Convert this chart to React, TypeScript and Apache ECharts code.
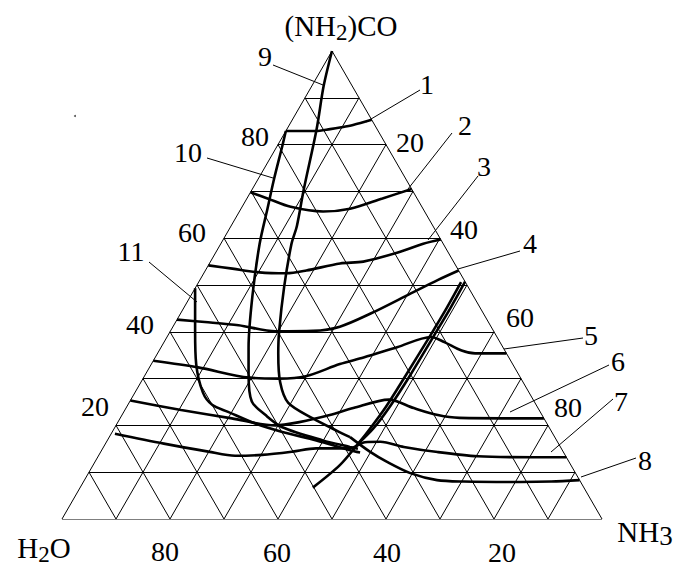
import React, { useEffect, useRef } from "react";
import * as echarts from "echarts";

// Ternary points are [NH3 %, (NH2)CO %]; H2O % = 100 - NH3 - (NH2)CO
const gridSteps = [10, 20, 30, 40, 50, 60, 70, 80, 90];
const leftTicks = ["80", "60", "40", "20"]; // (NH2)CO %
const rightTicks = ["20", "40", "60", "80"]; // NH3 %
const bottomTicks = ["80", "60", "40", "20"]; // H2O %

const curve1 = [[0, 82.9], [5.5, 82.9], [8, 83.3], [9.9, 83.7], [11.8, 84.2], [14.7, 85.3]];
const curve2 = [[0, 69.8], [3.8, 68.5], [9.0, 66.7], [15.5, 65.7], [20.2, 66.3], [25.1, 68.5], [29.5, 70.5]];
const curve3 = [[0, 54.2], [4.8, 53.5], [10.2, 52.7], [15.3, 52.5], [18.7, 53.1], [24.2, 54.6], [28.3, 55.0], [33.6, 56.9], [37.5, 58.8], [40.3, 59.7]];
const curve4 = [[0, 42.6], [5.4, 42.1], [12.0, 41.4], [19.5, 40.1], [26.4, 40.2], [30.9, 41.1], [35.2, 43.9], [40.5, 48.2], [44.1, 51.1], [46.9, 53.1]];
const curve5 = [[0, 33.8], [9.0, 32.4], [19.5, 30.2], [25.2, 30.0], [29.9, 30.5], [34.9, 33.1], [38.6, 34.5], [43.7, 36.7], [48.9, 38.9], [51.9, 37.8], [56.0, 36.0], [58.8, 35.4], [64.6, 35.4]];
const curve6 = [[0, 25.3], [10.4, 23.3], [20.7, 21.5], [29.5, 20.0], [33.6, 20.7], [38.5, 22.2], [42.1, 23.7], [47.8, 25.5], [53.3, 23.7], [58.5, 22.2], [62.8, 21.6], [78.5, 21.5]];
const curve7 = [[0.7, 18.2], [10.8, 16.1], [19.9, 14.4], [25.3, 13.5], [30.2, 13.7], [35.5, 14.4], [39.5, 15.1], [45.8, 15.1], [47.9, 16.4], [50.7, 16.5], [55.6, 15.4], [62.4, 14.3], [70.3, 13.4], [81.0, 13.2], [86.8, 13.2]];
const curve8 = [[44.6, 17.5], [49.8, 14.4], [54.1, 12.2], [59.6, 9.8], [65.3, 8.3], [70.4, 8.0], [81.0, 7.9], [86.6, 8.0], [91.7, 8.3]];
const curve9 = [[0, 100], [2.2, 92.5], [5.5, 83.3], [9.6, 70.3], [12.2, 62.6], [13.1, 58.8], [16.3, 49.7], [20.2, 40], [22.4, 35.3], [25.8, 29.2], [29.5, 24.8], [35.7, 21.5], [41.4, 18.9], [44.6, 17.5]];
const curve10 = [[0, 82.9], [0.95, 79.7], [2.9, 72.8], [4.9, 66.3], [7.2, 58.8], [11.5, 47.5], [16.2, 36.7], [19.1, 30.9], [22.6, 25.1], [26.6, 22.2], [31.0, 19.6], [39.9, 16.8], [45.6, 15.4], [47.3, 15.0]];
const curve11 = [[0, 49.3], [4.5, 40.3], [8.3, 33.1], [12.6, 27.0], [15.6, 24.4], [19.3, 22.9], [25.6, 20.4], [31.5, 18.6], [38.7, 16.8], [46.0, 14.7], [48.1, 14.2]];
const boundaryA = [[43.1, 6.7], [45.7, 11.5], [46.8, 16.1], [47.4, 19.4], [48.0, 24.0], [48.3, 30.3], [48.6, 39.3], [48.7, 45.0], [48.6, 50.6]];
const boundaryB = [[46.8, 16.1], [48.0, 19.4], [48.7, 24.0], [49.1, 30.3], [49.3, 39.3], [49.4, 45.0], [49.3, 50.7]];

const curves = [curve1, curve2, curve3, curve4, curve5, curve6, curve7, curve8, curve9, curve10, curve11, boundaryA, boundaryB];

const FONT = "'Liberation Serif', 'Times New Roman', serif";

const toXY = (p: number[]) => [p[0] + p[1] / 2, p[1]];

function buildGridSegments() {
  const segs: { coords: number[][] }[] = [];
  // triangle outline
  segs.push({ coords: [toXY([0, 0]), toXY([100, 0])] });
  segs.push({ coords: [toXY([0, 0]), toXY([0, 100])] });
  segs.push({ coords: [toXY([100, 0]), toXY([0, 100])] });
  gridSteps.forEach((k) => {
    segs.push({ coords: [toXY([0, k]), toXY([100 - k, k])] }); // constant (NH2)CO
    segs.push({ coords: [toXY([k, 0]), toXY([k, 100 - k])] }); // constant NH3
    segs.push({ coords: [toXY([100 - k, 0]), toXY([0, 100 - k])] }); // constant H2O
  });
  return segs;
}

function txt(x: number, y: number, text: string, size = 28, rich?: any) {
  return {
    type: "text",
    x,
    y,
    silent: true,
    style: {
      text,
      fill: "#000",
      font: `${size}px ${FONT}`,
      fontSize: size,
      fontFamily: FONT,
      align: "center",
      verticalAlign: "middle",
      textAlign: "center",
      textVerticalAlign: "middle",
      rich,
    },
  };
}

function leader(x1: number, y1: number, x2: number, y2: number) {
  return {
    type: "line",
    silent: true,
    shape: { x1, y1, x2, y2 },
    style: { stroke: "#000", lineWidth: 1 },
  };
}

const richChem = {
  a: { fontSize: 29, fontFamily: FONT, lineHeight: 34, fill: "#000" },
  b: { fontSize: 23, fontFamily: FONT, lineHeight: 34, padding: [12, 0, 0, 0], fill: "#000" },
};

export default function App() {
  const ref = useRef<HTMLDivElement>(null);
  useEffect(() => {
    if (!ref.current) return;
    const chart = echarts.init(ref.current, undefined, { renderer: "svg" });

    const leftPos = [[255, 136], [192, 232], [140, 324], [95, 406]];
    const rightPos = [[410, 142], [464, 229], [520, 317], [568, 407]];
    const bottomPos = [[165, 551], [277, 552], [387, 552], [502, 552]];

    const graphics: any[] = [
      ...leftTicks.map((t, i) => txt(leftPos[i][0], leftPos[i][1], t)),
      ...rightTicks.map((t, i) => txt(rightPos[i][0], rightPos[i][1], t)),
      ...bottomTicks.map((t, i) => txt(bottomPos[i][0], bottomPos[i][1], t)),
      txt(341, 26, "{a|(NH}{b|2}{a|)CO}", 29, richChem),
      txt(44, 548, "{a|H}{b|2}{a|O}", 29, richChem),
      txt(645, 532, "{a|NH}{b|3}", 29, {
        a: richChem.a,
        b: { fontSize: 27, fontFamily: FONT, lineHeight: 34, padding: [8, 0, 0, 0], fill: "#000" },
      }),
      txt(265, 56, "9"),
      txt(427, 84, "1"),
      txt(188, 152, "10"),
      txt(465, 125, "2"),
      txt(484, 166, "3"),
      txt(530, 243, "4"),
      txt(131, 251, "11"),
      txt(591, 335, "5"),
      txt(618, 361, "6"),
      txt(621, 401, "7"),
      txt(645, 460, "8"),
      leader(273, 65, 323, 85),
      leader(420, 90, 366, 122),
      leader(207, 158, 273, 178),
      leader(452, 133, 408, 189),
      leader(478, 176, 428, 240),
      leader(520, 251, 458, 269),
      leader(149, 262, 197, 302),
      leader(583, 338, 504, 349),
      leader(609, 365, 510, 412),
      leader(613, 399, 551, 452),
      leader(636, 458, 581, 477),
      { type: "circle", silent: true, shape: { cx: 75, cy: 116, r: 1 }, style: { fill: "#555" } },
    ];

    chart.setOption({
      animation: false,
      backgroundColor: "#fff",
      grid: { left: 62, top: 51, width: 540, height: 468 },
      xAxis: { type: "value", min: 0, max: 100, show: false },
      yAxis: { type: "value", min: 0, max: 100, show: false },
      series: [
        {
          type: "lines",
          coordinateSystem: "cartesian2d",
          silent: true,
          z: 1,
          lineStyle: { color: "#000", width: 1, opacity: 1 },
          data: buildGridSegments(),
        },
        ...curves.map((c) => ({
          type: "line",
          silent: true,
          z: 3,
          smooth: 0.3,
          symbol: "none",
          lineStyle: { color: "#000", width: 2.6 },
          data: c.map(toXY),
        })),
      ],
      graphic: graphics,
    });
    return () => chart.dispose();
  }, []);
  return (
    <div
      ref={ref}
      style={{ position: "fixed", left: 0, top: 0, width: 674, height: 567, background: "#fff" }}
    />
  );
}
